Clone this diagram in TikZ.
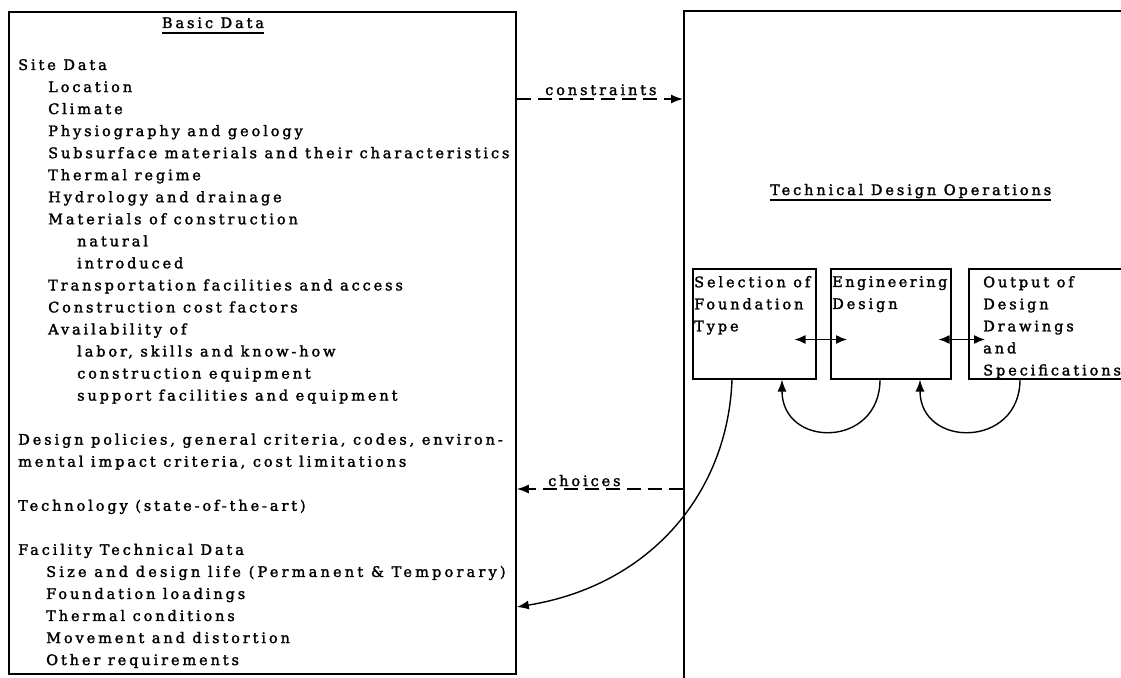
\documentclass[tikz,border=0pt]{standalone}
\usepackage{fontspec}
\setmainfont{DejaVu Serif}[LetterSpace=20,FakeBold=1.8]
\usetikzlibrary{arrows.meta,calc}
\begin{document}
\begin{tikzpicture}[x=1pt,y=-1pt,
  txt/.style={font=\fontsize{14.5pt}{22.04pt}\selectfont, inner sep=0pt, align=left, anchor=north west},
  ttl/.style={font=\fontsize{14.5pt}{22.04pt}\selectfont, inner sep=0pt, anchor=base west},
  bigbox/.style={draw, line width=1.8pt, rectangle, inner sep=0pt, anchor=north west},
  smallbox/.style={draw, line width=1.5pt, rectangle, inner sep=0pt, anchor=north west, minimum height=110pt},
  flow/.style={line width=1.4pt, -{Latex[length=12pt,width=9pt]}},
  dflow/.style={flow, dash pattern=on 14pt off 7pt},
  biflow/.style={line width=1.4pt, {Latex[length=11pt,width=9pt]}-{Latex[length=11pt,width=9pt]}},
  uline/.style={line width=1.5pt}]
\clip (0,0) rectangle (1121,677);
\fill[white] (0,0) rectangle (1121,677);
% main boxes
\node[bigbox, minimum width=507pt, minimum height=662pt] (basic) at (8,11) {};
\node[bigbox, minimum width=480pt, minimum height=720pt] (ops) at (683,10) {};
% titles
\node[ttl, anchor=base] (basictitle) at (213,28) {Basic Data};
\draw[uline] ([yshift=-5pt]basictitle.base west) -- ([yshift=-5pt]basictitle.base east);
\node[ttl] (opstitle) at (770,195) {Technical Design Operations};
\draw[uline] ([yshift=-5pt]opstitle.base west) -- ([yshift=-5pt]opstitle.base east);
% list of basic data
\node[txt] (list) at (18,59) {Site Data\\
\hspace*{30pt}Location\\
\hspace*{30pt}Climate\\
\hspace*{30pt}Physiography and geology\\
\hspace*{30pt}Subsurface materials and their characteristics\\
\hspace*{30pt}Thermal regime\\
\hspace*{30pt}Hydrology and drainage\\
\hspace*{30pt}Materials of construction\\
\hspace*{59pt}natural\\
\hspace*{59pt}introduced\\
\hspace*{30pt}Transportation facilities and access\\
\hspace*{30pt}Construction cost factors\\
\hspace*{30pt}Availability of\\
\hspace*{59pt}labor, skills and know-how\\
\hspace*{59pt}construction equipment\\
\hspace*{59pt}support facilities and equipment\\[22.04pt]
Design policies, general criteria, codes, environ-\\
mental impact criteria, cost limitations\\[22.04pt]
Technology (state-of-the-art)\\[22.04pt]
Facility Technical Data\\
\hspace*{28pt}{\addfontfeatures{LetterSpace=22}Size and design life (Permanent \& Temporary)}\\
\hspace*{28pt}Foundation loadings\\
\hspace*{28pt}Thermal conditions\\
\hspace*{28pt}Movement and distortion\\
\hspace*{28pt}Other requirements};
% small boxes
\node[smallbox, minimum width=123pt] (box1) at (692,268) {};
\node[smallbox, minimum width=120pt] (box2) at (830,268) {};
\node[smallbox, minimum width=180pt] (box3) at (968,268) {};
\node[txt] (t1) at ($(box1.north west)+(2,8)$) {Selection of\\Foundation\\Type};
\node[txt] (t2) at ($(box2.north west)+(2,8)$) {{\addfontfeatures{LetterSpace=17}Engineering}\\Design};
\node[txt] (t3) at ($(box3.north west)+(15,8)$) {Output of\\Design\\Drawings\\and\\Specifications};
% constraints / choices
\coordinate (cy) at (0,99);
\coordinate (hy) at (0,489);
\coordinate (ay) at (0,607);
\draw[dflow] (basic.east |- cy) -- (ops.west |- cy);
\node[ttl] (lc) at (545,95) {constraints};
\draw[dflow] (ops.west |- hy) -- (basic.east |- hy);
\node[ttl] (lh) at (548,486) {choices};
% double arrows
\draw[biflow] ($(box1.south east)+(-22,-40)$) -- ($(box2.south west)+(17,-40)$);
\draw[biflow] ($(box2.south east)+(-13,-40)$) -- ($(box3.south west)+(17,-40)$);
% feedback loops
\draw[flow] ($(box2.south west)+(50,0)$) .. controls +(0,69) and +(0,69) .. ($(box1.south west)+(90,0)$);
\draw[flow] ($(box3.south west)+(52,0)$) .. controls +(0,69) and +(0,69) .. ($(box2.south west)+(90,0)$);
\draw[flow] ($(box1.south west)+(40,0)$) .. controls +(-4,112) and +(135,-22) .. (basic.east |- ay);
\end{tikzpicture}
\end{document}
